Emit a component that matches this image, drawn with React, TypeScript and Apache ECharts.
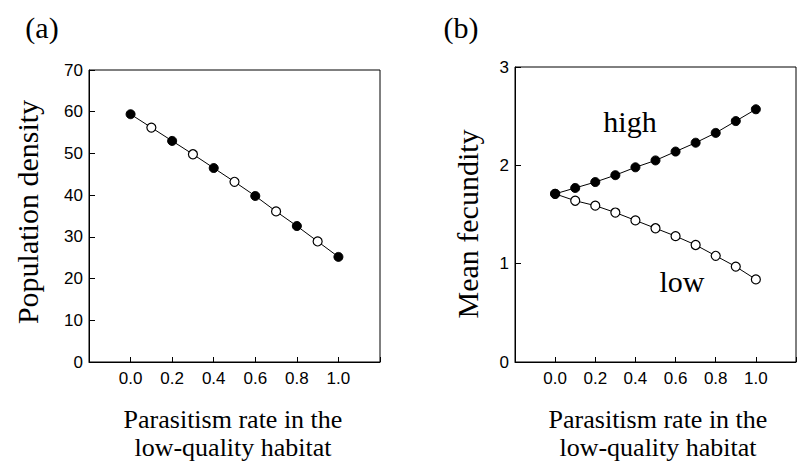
import React, { useEffect, useRef } from "react";
import * as echarts from "echarts";

const xValues = [0, 0.1, 0.2, 0.3, 0.4, 0.5, 0.6, 0.7, 0.8, 0.9, 1.0];
const densityValues = [59.4, 56.2, 53.0, 49.8, 46.5, 43.2, 39.8, 36.1, 32.6, 28.9, 25.2];
const highValues = [1.71, 1.77, 1.83, 1.9, 1.98, 2.05, 2.14, 2.23, 2.33, 2.45, 2.57];
const lowValues = [1.71, 1.64, 1.59, 1.52, 1.44, 1.36, 1.28, 1.19, 1.08, 0.97, 0.84];
const xTickLabels = ["0.0", "0.2", "0.4", "0.6", "0.8", "1.0"];

const SERIF = '"Liberation Serif", "Times New Roman", serif';
const SANS = '"Liberation Sans", Arial, sans-serif';

const filledStyle = { color: "#000", borderColor: "#000", borderWidth: 1 };
const openStyle = { color: "#fff", borderColor: "#000", borderWidth: 1.2 };

function xAxis(gridIndex: number) {
  return {
    type: "value",
    gridIndex,
    min: -0.2,
    max: 1.2,
    interval: 0.2,
    axisLine: { show: true, onZero: false, lineStyle: { color: "#000", width: 1 } },
    axisTick: { show: true, inside: true, length: 5, lineStyle: { color: "#000" } },
    splitLine: { show: false },
    axisLabel: {
      margin: 8,
      fontFamily: SANS,
      fontSize: 17,
      color: "#000",
      formatter: (v: number) => {
        const idx = Math.round(v / 0.2);
        if (v < -0.01 || v > 1.01) return "";
        return xTickLabels[idx] ?? "";
      },
    },
  };
}

function yAxis(gridIndex: number, max: number, interval: number) {
  return {
    type: "value",
    gridIndex,
    min: 0,
    max,
    interval,
    axisLine: { show: true, onZero: false, lineStyle: { color: "#000", width: 1 } },
    axisTick: { show: true, inside: true, length: 6, lineStyle: { color: "#000" } },
    splitLine: { show: false },
    axisLabel: { margin: 6, fontFamily: SANS, fontSize: 17, color: "#000" },
  };
}

export default function App() {
  const ref = useRef<HTMLDivElement>(null);
  useEffect(() => {
    if (!ref.current) return;
    const chart = echarts.init(ref.current, undefined, { renderer: "svg" });

    const densityData = xValues.map((x, i) => ({
      value: [x, densityValues[i]],
      itemStyle: i % 2 === 0 ? filledStyle : openStyle,
    }));
    const highData = xValues.map((x, i) => ({ value: [x, highValues[i]], itemStyle: filledStyle }));
    const lowData = xValues.map((x, i) => ({ value: [x, lowValues[i]], itemStyle: openStyle }));

    const lineSeries = (data: any[], xi: number, yi: number) => ({
      type: "line",
      xAxisIndex: xi,
      yAxisIndex: yi,
      data,
      symbol: "circle",
      symbolSize: 9,
      lineStyle: { color: "#000", width: 1 },
      emphasis: { disabled: true },
      z: 3,
    });

    const titleStyle = (text: string, size: number) => ({
      text,
      font: `${size}px ${SERIF}`,
      fill: "#000",
      align: "center",
      verticalAlign: "middle",
    });

    chart.setOption({
      animation: false,
      backgroundColor: "#fff",
      grid: [
        { left: 89, top: 70, width: 291, height: 292, show: true, borderColor: "#000", borderWidth: 1, backgroundColor: "transparent" },
        { left: 515, top: 67, width: 294, height: 295, show: true, borderColor: "#000", borderWidth: 1, backgroundColor: "transparent" },
      ],
      xAxis: [xAxis(0), xAxis(1)],
      yAxis: [yAxis(0, 70, 10), yAxis(1, 3, 1)],
      series: [
        lineSeries(densityData, 0, 0),
        lineSeries(lowData, 1, 1),
        lineSeries(highData, 1, 1),
      ],
      graphic: [
        { type: "text", x: 42, y: 27, style: titleStyle("(a)", 30) },
        { type: "text", x: 461, y: 27, style: titleStyle("(b)", 30) },
        { type: "text", x: 630, y: 121, style: titleStyle("high", 30) },
        { type: "text", x: 682, y: 281, style: titleStyle("low", 30) },
        { type: "text", x: 27, y: 212, rotation: Math.PI / 2, style: titleStyle("Population density", 30) },
        { type: "text", x: 467, y: 224, rotation: Math.PI / 2, style: titleStyle("Mean fecundity", 30) },
        { type: "text", x: 233, y: 419, style: titleStyle("Parasitism rate in the", 26) },
        { type: "text", x: 233, y: 447, style: titleStyle("low-quality habitat", 26) },
        { type: "text", x: 658, y: 419, style: titleStyle("Parasitism rate in the", 26) },
        { type: "text", x: 658, y: 447, style: titleStyle("low-quality habitat", 26) },
      ],
    });
    return () => chart.dispose();
  }, []);
  return (
    <div
      ref={ref}
      style={{ position: "absolute", left: 0, top: 0, width: 799, height: 462, background: "#fff" }}
    />
  );
}
